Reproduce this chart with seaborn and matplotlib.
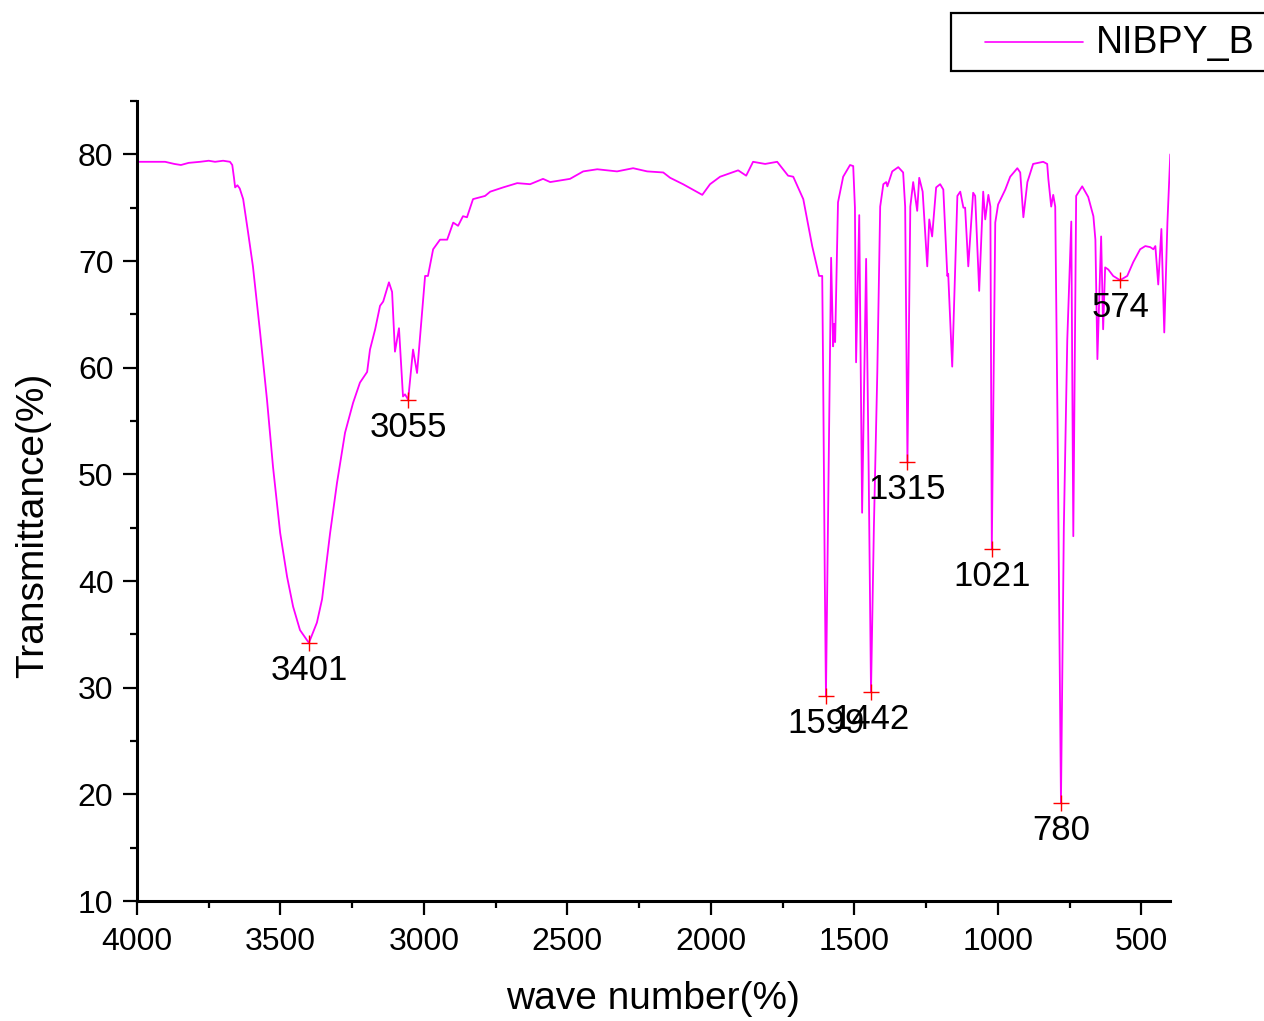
import matplotlib
matplotlib.use("Agg")
import matplotlib.pyplot as plt
from matplotlib.patches import Rectangle
from matplotlib.lines import Line2D
from matplotlib.ticker import MultipleLocator
import numpy as np
import pandas as pd
import seaborn as sns

# FT-IR spectrum of NIBPY_B: wavenumber (cm-1) and transmittance (%)
wavenumber = [
    4000, 3955, 3902, 3870, 3847, 3820, 3780, 3750, 3728, 3700, 3676, 3668,
    3662, 3658, 3650, 3642, 3630, 3613, 3596, 3571, 3547, 3526, 3501, 3477,
    3456, 3432, 3401, 3373, 3355, 3327, 3303, 3275, 3247, 3223, 3198, 3188,
    3170, 3153, 3142, 3122, 3111, 3101, 3087, 3073, 3066, 3055, 3038, 3024,
    2996, 2986, 2968, 2944, 2919, 2898, 2881, 2864, 2850, 2829, 2787, 2769,
    2724, 2675, 2630, 2585, 2560, 2491, 2445, 2396, 2327, 2271, 2222, 2166,
    2142, 2097, 2030, 2003, 1968, 1905, 1877, 1853, 1811, 1769, 1731, 1713,
    1678, 1647, 1623, 1612, 1609, 1603, 1599, 1590, 1581, 1574, 1571, 1567,
    1557, 1539, 1515, 1504, 1498, 1494, 1483, 1473, 1459, 1450, 1442, 1432,
    1420, 1410, 1399, 1389, 1385, 1368, 1347, 1330, 1323, 1315, 1305, 1295,
    1281, 1274, 1262, 1246, 1239, 1229, 1215, 1201, 1190, 1176, 1173, 1159,
    1141, 1131, 1120, 1114, 1103, 1086, 1079, 1065, 1051, 1044, 1033, 1026,
    1021, 1009, 999, 974, 957, 932, 922, 911, 897, 877, 842, 828,
    824, 814, 807, 800, 792, 780, 770, 758, 744, 737, 727, 706,
    685, 667, 660, 653, 640, 633, 626, 615, 598, 574, 549, 528,
    504, 486, 469, 458, 451, 441, 430, 420, 409, 399,
]
transmittance = [
    79.3, 79.3, 79.3, 79.1, 79.0, 79.2, 79.3, 79.4, 79.3, 79.4, 79.3, 79.0,
    77.8, 76.9, 77.1, 76.8, 75.8, 72.7, 69.5, 63.3, 57.0, 50.7, 44.5, 40.4,
    37.6, 35.4, 34.2, 36.1, 38.3, 44.5, 49.2, 53.9, 56.7, 58.6, 59.6, 61.7,
    63.6, 65.8, 66.2, 68.0, 67.1, 61.5, 63.7, 57.3, 57.5, 57.0, 61.7, 59.5,
    68.6, 68.6, 71.1, 72.0, 72.0, 73.6, 73.3, 74.2, 74.1, 75.8, 76.1, 76.5,
    76.9, 77.3, 77.2, 77.7, 77.4, 77.7, 78.4, 78.6, 78.4, 78.7, 78.4, 78.3,
    77.8, 77.2, 76.2, 77.2, 77.9, 78.5, 78.0, 79.3, 79.1, 79.3, 78.0, 77.9,
    75.8, 71.4, 68.6, 68.6, 60.0, 40.0, 29.2, 50.0, 70.3, 62.0, 64.1, 62.4,
    75.5, 77.9, 79.0, 78.9, 75.0, 60.5, 74.3, 46.4, 70.2, 50.0, 29.6, 45.0,
    59.6, 75.1, 77.2, 77.4, 77.0, 78.4, 78.8, 78.3, 75.1, 51.2, 75.1, 77.4,
    74.7, 77.8, 76.5, 69.5, 73.9, 72.3, 76.9, 77.2, 76.7, 68.6, 68.8, 60.1,
    76.1, 76.5, 75.0, 75.0, 69.5, 76.4, 76.1, 67.2, 76.5, 73.9, 76.2, 75.1,
    43.0, 73.6, 75.3, 76.7, 77.9, 78.7, 78.3, 74.1, 77.4, 79.1, 79.3, 79.1,
    77.7, 75.1, 76.2, 75.1, 55.0, 19.2, 45.0, 62.6, 73.7, 44.2, 76.1, 77.0,
    76.0, 74.2, 72.0, 60.8, 72.3, 63.6, 69.4, 69.2, 68.6, 68.2, 68.6, 69.9,
    71.1, 71.4, 71.3, 71.1, 71.4, 67.8, 73.0, 63.3, 73.6, 80.0,
]

# Labelled absorption bands
peak_wavenumber = [3401, 3055, 1599, 1442, 1315, 1021, 780, 574]
peak_transmittance = [34.2, 57.0, 29.2, 29.6, 51.2, 43.0, 19.2, 68.2]
peak_labels = ["3401", "3055", "1599", "1442", "1315", "1021", "780", "574"]

series_name = "NIBPY_B"
x_ticks = [4000, 3500, 3000, 2500, 2000, 1500, 1000, 500]
y_ticks = [10, 20, 30, 40, 50, 60, 70, 80]

spectrum = pd.DataFrame({"wavenumber": wavenumber, "transmittance": transmittance})
peaks = pd.DataFrame({"wavenumber": peak_wavenumber, "transmittance": peak_transmittance})

sns.set_style("ticks")
plt.rcParams["font.family"] = ["Liberation Sans", "DejaVu Sans"]

W, H = 1264, 1021
fig = plt.figure(figsize=(W / 100, H / 100), dpi=100)
ax = fig.add_axes([137 / W, 1 - 901 / H, (1170 - 137) / W, (901 - 101) / H])

sns.lineplot(data=spectrum, x="wavenumber", y="transmittance", sort=False,
             estimator=None, color="#ff00ff", linewidth=1.3, ax=ax, legend=False)
sns.scatterplot(data=peaks, x="wavenumber", y="transmittance", marker="+",
                s=130, color="red", linewidth=1.0, ax=ax, legend=False, zorder=3)

for wn, t, lab in zip(peak_wavenumber, peak_transmittance, peak_labels):
    ax.annotate(lab, xy=(wn, t), xytext=(0, -8), textcoords="offset points",
                ha="center", va="top", fontsize=25, color="black")

ax.set_xlim(4000, 400)
ax.set_ylim(10, 85)
ax.set_xticks(x_ticks)
ax.set_yticks(y_ticks)
ax.xaxis.set_minor_locator(MultipleLocator(250))
ax.yaxis.set_minor_locator(MultipleLocator(5))
ax.tick_params(which="major", direction="out", length=10, width=1.6,
               labelsize=23, pad=7, color="black", labelcolor="black")
ax.tick_params(axis="x", which="major", pad=9)
ax.tick_params(which="minor", direction="out", length=5, width=1.6, color="black")

for side in ["top", "right"]:
    ax.spines[side].set_visible(False)
for side in ["left", "bottom"]:
    ax.spines[side].set_linewidth(2.2)
    ax.spines[side].set_color("black")

ax.set_xlabel("wave number(%)", fontsize=28, color="black")
ax.set_ylabel("Transmittance(%)", fontsize=28, color="black")
ax.xaxis.set_label_coords(0.5, -0.1)
ax.yaxis.set_label_coords(-0.083, 0.469)

# Legend box in the upper right corner of the figure
fig.add_artist(Rectangle((951 / W, 1 - 71 / H), 400 / W, 58 / H,
                         transform=fig.transFigure, facecolor="white",
                         edgecolor="black", linewidth=1.6, clip_on=False))
fig.add_artist(Line2D([985 / W, 1083 / W], [1 - 42 / H, 1 - 42 / H],
                      transform=fig.transFigure, color="#ff00ff", linewidth=1.2))
fig.text(1096 / W, 1 - 43 / H, series_name, fontsize=27, va="center",
         ha="left", color="black")

fig.savefig("out.png", dpi=100, facecolor="white")
